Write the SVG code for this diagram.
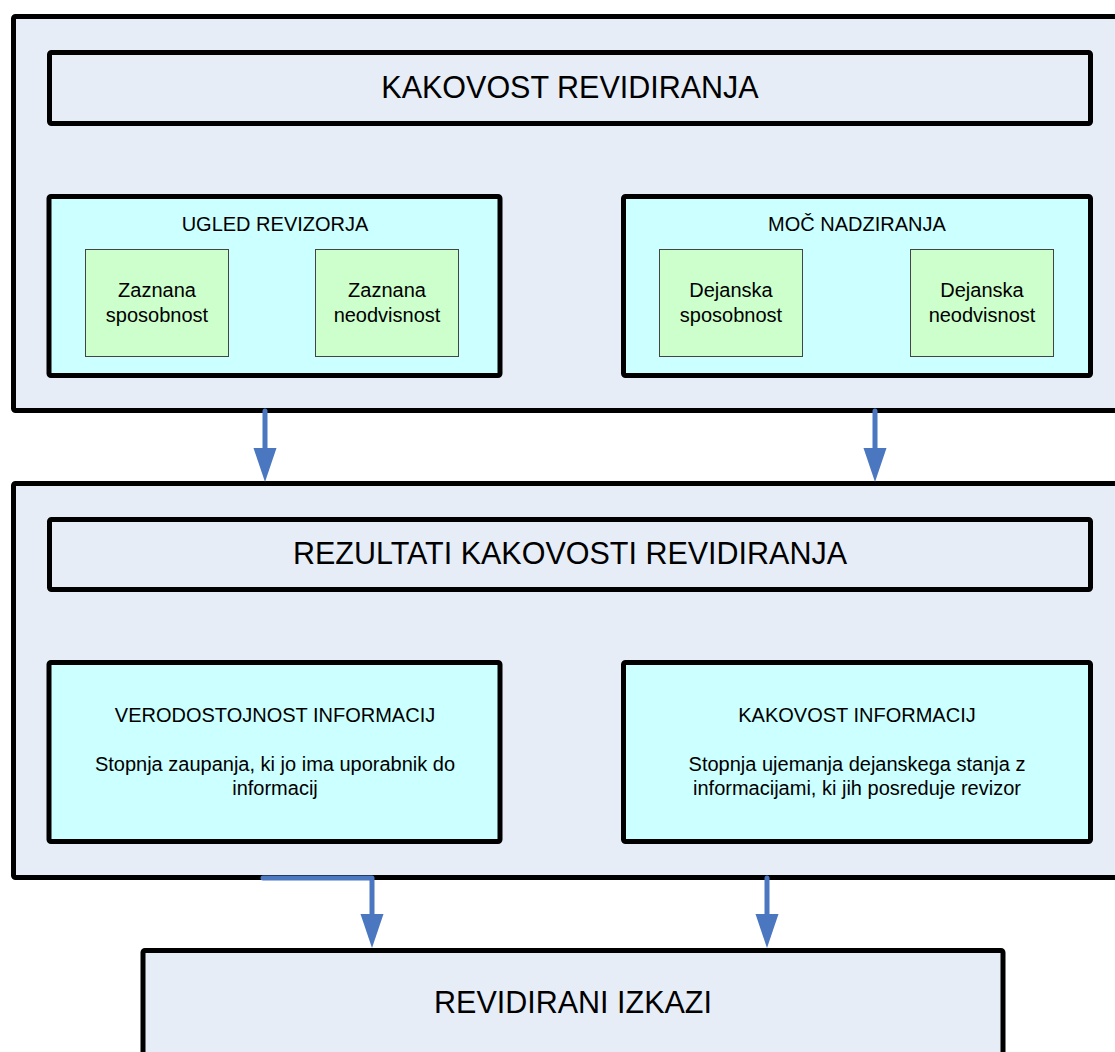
<svg xmlns="http://www.w3.org/2000/svg" width="1115" height="1052" viewBox="0 0 1115 1052">
<defs>
<style>
.outer{fill:#e6edf7;stroke:#000;stroke-width:5}
.title{fill:#e6edf7;stroke:#000;stroke-width:5}
.group{fill:#ccffff;stroke:#000;stroke-width:5}
.leaf{fill:#ccffcc;stroke:#444;stroke-width:1}
text{font-family:"Liberation Sans",Arial,sans-serif;fill:#000;text-anchor:middle}
.t28{font-size:30.5px}
.t18{font-size:20px}
.conn{fill:none;stroke:#4a77c0;stroke-width:5;stroke-linecap:round;stroke-linejoin:round}
.head{fill:#4a77c0}
</style>
</defs>
<rect width="1115" height="1052" fill="#fff"/>
<g id="kakovost-revidiranja-outer">
<rect class="outer" x="13.5" y="16.5" width="1115" height="394" rx="2"/>
</g>
<g id="kakovost-revidiranja">
<rect class="title" x="49.5" y="52.5" width="1041" height="71" rx="2"/>
<text class="t28" x="570" y="98">KAKOVOST REVIDIRANJA</text>
</g>
<g id="ugled-revizorja">
<rect class="group" x="49" y="196.5" width="451" height="179" rx="2"/>
<text class="t18" x="275" y="231">UGLED REVIZORJA</text>
</g>
<g id="zaznana-sposobnost">
<rect class="leaf" x="85.5" y="249.5" width="143" height="107"/>
<text class="t18" x="157" y="297">Zaznana</text>
<text class="t18" x="157" y="322">sposobnost</text>
</g>
<g id="zaznana-neodvisnost">
<rect class="leaf" x="315.5" y="249.5" width="143" height="107"/>
<text class="t18" x="387" y="297">Zaznana</text>
<text class="t18" x="387" y="322">neodvisnost</text>
</g>
<g id="moc-nadziranja">
<rect class="group" x="623.5" y="196.5" width="467" height="179" rx="2"/>
<text class="t18" x="857" y="231">MOČ NADZIRANJA</text>
</g>
<g id="dejanska-sposobnost">
<rect class="leaf" x="659.5" y="249.5" width="143" height="107"/>
<text class="t18" x="731" y="297">Dejanska</text>
<text class="t18" x="731" y="322">sposobnost</text>
</g>
<g id="dejanska-neodvisnost">
<rect class="leaf" x="910.5" y="249.5" width="143" height="107"/>
<text class="t18" x="982" y="297">Dejanska</text>
<text class="t18" x="982" y="322">neodvisnost</text>
</g>
<g id="rezultati-outer">
<rect class="outer" x="13.5" y="483.5" width="1115" height="394" rx="2"/>
</g>
<g id="rezultati-kakovosti-revidiranja">
<rect class="title" x="49.5" y="519.5" width="1041" height="70" rx="2"/>
<text class="t28" x="570" y="564">REZULTATI KAKOVOSTI REVIDIRANJA</text>
</g>
<g id="verodostojnost-informacij">
<rect class="group" x="49" y="662.5" width="451" height="179" rx="2"/>
<text class="t18" x="275" y="722">VERODOSTOJNOST INFORMACIJ</text>
<text class="t18" x="275" y="771">Stopnja zaupanja, ki jo ima uporabnik do</text>
<text class="t18" x="275" y="795">informacij</text>
</g>
<g id="kakovost-informacij">
<rect class="group" x="623.5" y="662.5" width="467" height="179" rx="2"/>
<text class="t18" x="857" y="722">KAKOVOST INFORMACIJ</text>
<text class="t18" x="857" y="771">Stopnja ujemanja dejanskega stanja z</text>
<text class="t18" x="857" y="795">informacijami, ki jih posreduje revizor</text>
</g>
<g id="revidirani-izkazi">
<rect class="outer" x="143" y="950.5" width="860" height="120" rx="2"/>
<text class="t28" x="573" y="1013">REVIDIRANI IZKAZI</text>
</g>
<g id="connectors">
<path class="conn" d="M265,411 L265,450"/>
<path class="head" d="M253.5,448 L276.5,448 L265,482 Z"/>
<path class="conn" d="M875,411 L875,450"/>
<path class="head" d="M863.5,448 L886.5,448 L875,482 Z"/>
<path class="conn" d="M263,878 L372,878 L372,916"/>
<path class="head" d="M360.5,914 L383.5,914 L372,948 Z"/>
<path class="conn" d="M767,878 L767,916"/>
<path class="head" d="M755.5,914 L778.5,914 L767,948 Z"/>
</g>
</svg>
